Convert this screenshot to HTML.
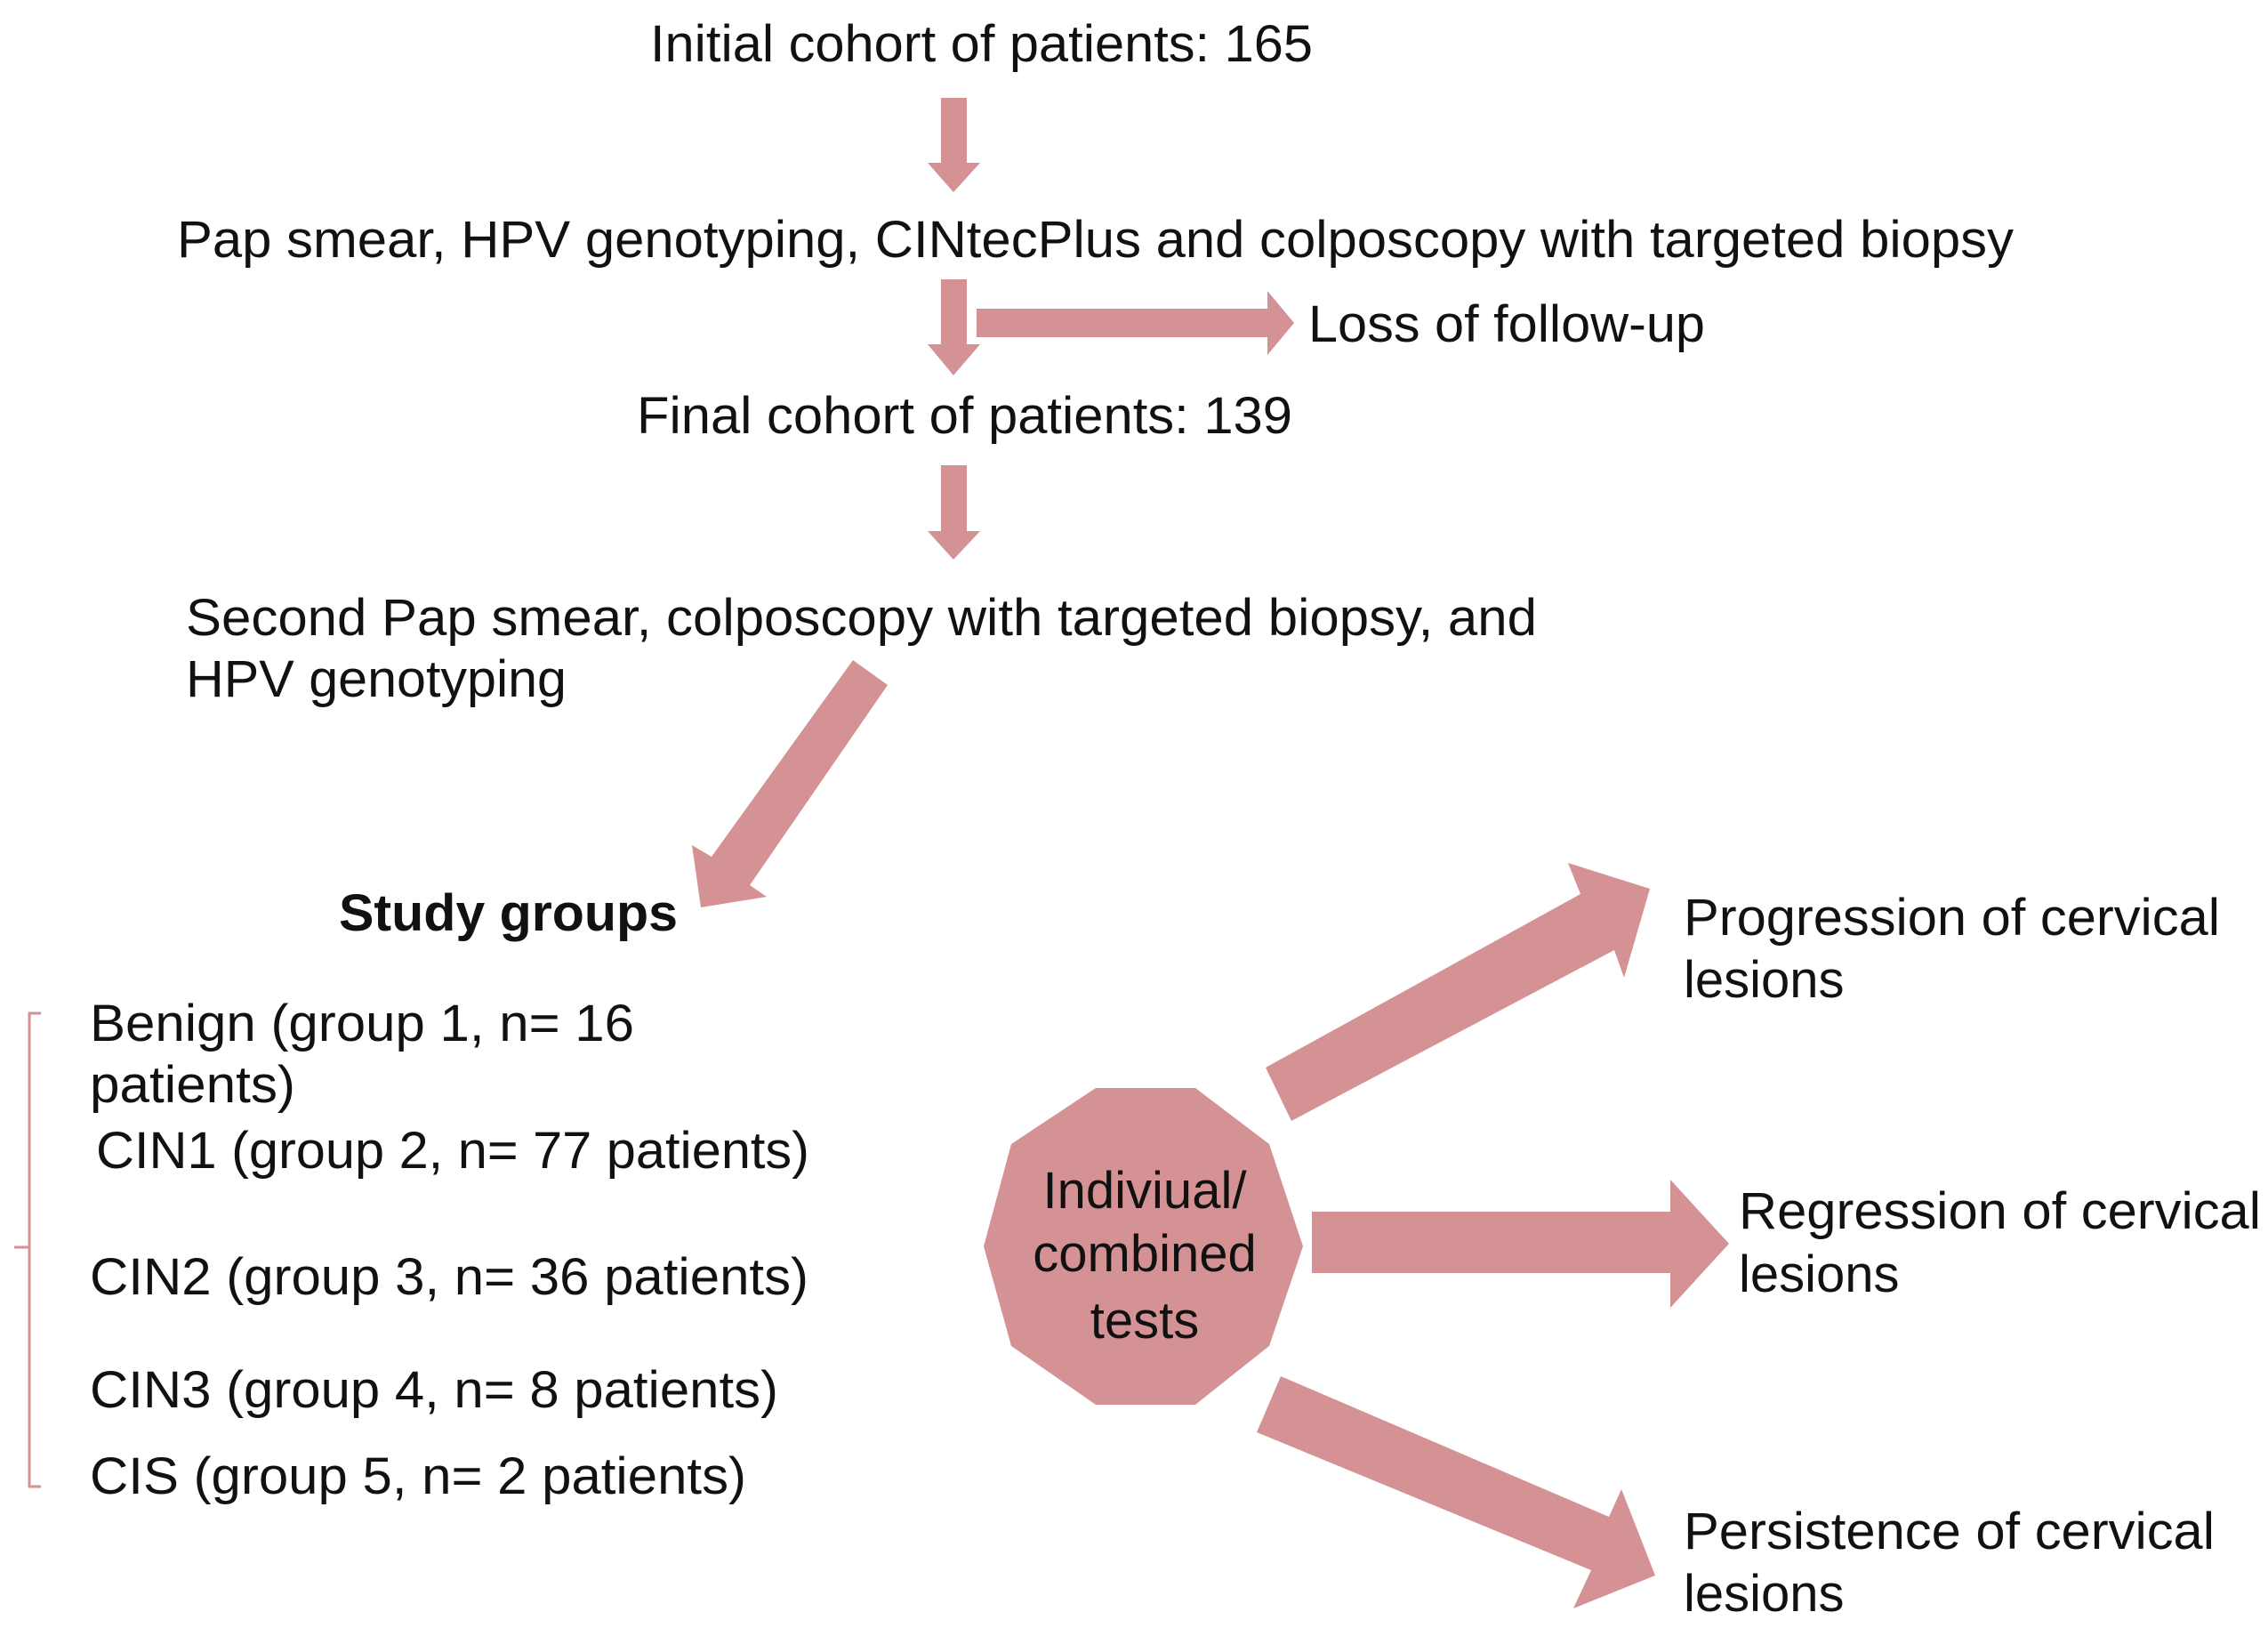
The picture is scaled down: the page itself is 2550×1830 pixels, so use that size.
<!DOCTYPE html>
<html><head><meta charset="utf-8"><style>
html,body{margin:0;padding:0;background:#fff;}
svg{display:block;}
text{font-family:"Liberation Sans",Arial,sans-serif;font-size:58px;fill:#111;}
</style></head><body>
<svg width="2550" height="1830" viewBox="0 0 2550 1830" xmlns="http://www.w3.org/2000/svg">
<g fill="#d49294">
<!-- arrow 1 -->
<polygon points="1058,110 1087,110 1087,183 1102,183 1072,216 1043,183 1058,183"/>
<!-- arrow 2 -->
<polygon points="1058,314 1087,314 1087,387 1102,387 1072,422 1043,387 1058,387"/>
<!-- loss arrow -->
<polygon points="1098,347 1425,347 1425,327 1455,363 1425,399 1425,379 1098,379"/>
<!-- arrow 3 -->
<polygon points="1058,523 1087,523 1087,597 1102,597 1072,629 1043,597 1058,597"/>
<!-- diagonal -->
<polygon points="959,742 998,770 843,995 862,1008 788,1020 778,950 800,963"/>
<!-- octagon -->
<polygon points="1232,1223 1344,1223 1427,1286 1465,1401 1427,1513 1344,1579 1232,1579 1137,1513 1106,1401 1137,1286"/>
<!-- right arrows -->
<polygon points="1423,1200 1777,1005 1763,970 1855,999 1826,1099 1815,1068 1452,1260"/>
<polygon points="1475,1362 1878,1362 1878,1326 1944,1398 1878,1470 1878,1431 1475,1431"/>
<polygon points="1440,1547 1809,1705 1823,1674 1861,1771 1769,1808 1789,1765 1413,1610"/>
</g>
<!-- bracket -->
<path d="M46,1139 L33,1139 L33,1671 L46,1671 M33,1402 L16,1402" stroke="#d49294" stroke-width="3" fill="none"/>

<text x="731" y="69" textLength="745" lengthAdjust="spacingAndGlyphs">Initial cohort of patients: 165</text>
<text x="199" y="289" textLength="2065" lengthAdjust="spacingAndGlyphs">Pap smear, HPV genotyping, CINtecPlus and colposcopy with targeted biopsy</text>
<text x="1471" y="384" textLength="446" lengthAdjust="spacingAndGlyphs">Loss of follow-up</text>
<text x="716" y="487" textLength="737" lengthAdjust="spacingAndGlyphs">Final cohort of patients: 139</text>
<text x="209" y="714" textLength="1519" lengthAdjust="spacingAndGlyphs">Second Pap smear, colposcopy with targeted biopsy, and</text>
<text x="209" y="783" textLength="428" lengthAdjust="spacingAndGlyphs">HPV genotyping</text>
<text x="381" y="1046" textLength="381" lengthAdjust="spacingAndGlyphs" font-weight="bold">Study groups</text>
<text x="101" y="1170" textLength="612" lengthAdjust="spacingAndGlyphs">Benign (group 1, n= 16</text>
<text x="101" y="1239" textLength="231" lengthAdjust="spacingAndGlyphs">patients)</text>
<text x="108" y="1313" textLength="802" lengthAdjust="spacingAndGlyphs">CIN1 (group 2, n= 77 patients)</text>
<text x="101" y="1455" textLength="808" lengthAdjust="spacingAndGlyphs">CIN2 (group 3, n= 36 patients)</text>
<text x="101" y="1582" textLength="774" lengthAdjust="spacingAndGlyphs">CIN3 (group 4, n= 8 patients)</text>
<text x="101" y="1679" textLength="738" lengthAdjust="spacingAndGlyphs">CIS (group 5, n= 2 patients)</text>
<text x="1287" y="1358" text-anchor="middle" font-size="56">Indiviual/</text>
<text x="1287" y="1429" text-anchor="middle" font-size="56">combined</text>
<text x="1287" y="1504" text-anchor="middle" font-size="56">tests</text>
<text x="1893" y="1051" textLength="603" lengthAdjust="spacingAndGlyphs">Progression of cervical</text>
<text x="1893" y="1121">lesions</text>
<text x="1955" y="1381" textLength="587" lengthAdjust="spacingAndGlyphs">Regression of cervical</text>
<text x="1955" y="1452">lesions</text>
<text x="1893" y="1741" textLength="597" lengthAdjust="spacingAndGlyphs">Persistence of cervical</text>
<text x="1893" y="1811">lesions</text>
</svg>
</body></html>
